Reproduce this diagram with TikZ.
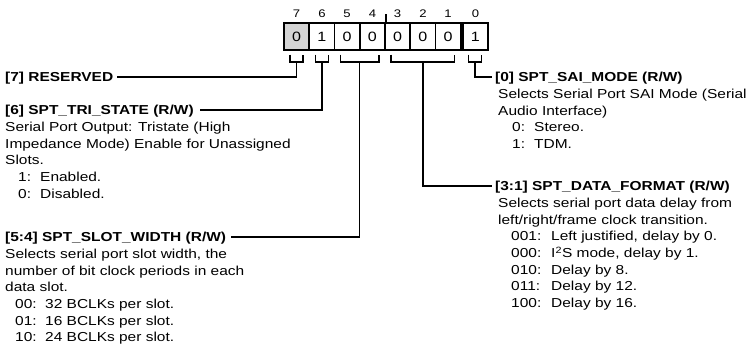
\documentclass[tikz,border=0pt]{standalone}
\usepackage{fontspec}
\setmainfont{Liberation Sans}[FakeStretch=1.19]
\definecolor{cellgray}{RGB}{212,212,212}
\newcommand\myitem[4]{\hbox{\hspace*{#1pt}\makebox[#2pt][l]{#3}#4}}
\begin{document}
\begin{tikzpicture}[x=1pt,y=-1pt,
  bitbox/.style={draw, line width=1.6pt, minimum width=25.25pt, minimum height=27pt, inner sep=0pt,
    font=\fontsize{13.5}{15}\selectfont},
  bitnum/.style={inner sep=0pt, font=\fontsize{11}{12}\selectfont},
  conn/.style={line width=1.4pt},
  title/.style={inner sep=0pt, anchor=west, text height=9.4pt, text depth=0pt,
    font=\bfseries\fontsize{13}{16.7}\selectfont},
  body/.style={inner sep=0pt, anchor=base west, font=\fontsize{13}{16.7}\selectfont}]
\useasboundingbox (0,0) rectangle (749,362);

% register cells
\node[bitbox, fill=cellgray] (c7) at (296.6,36.5) {0};
\node[bitbox] (c6) at (321.9,36.5) {1};
\node[bitbox] (c5) at (347.1,36.5) {0};
\node[bitbox] (c4) at (372.4,36.5) {0};
\node[bitbox] (c3) at (397.6,36.5) {0};
\node[bitbox] (c2) at (422.9,36.5) {0};
\node[bitbox] (c1) at (448.1,36.5) {0};
\node[bitbox] (c0) at (475.4,36.5) {1};

% bit numbers
\node[bitnum] (n7) at (296.6,14) {7};
\node[bitnum] (n6) at (321.9,14) {6};
\node[bitnum] (n5) at (347.1,14) {5};
\node[bitnum] (n4) at (372.4,14) {4};
\node[bitnum] (n3) at (397.6,14) {3};
\node[bitnum] (n2) at (422.9,14) {2};
\node[bitnum] (n1) at (448.1,14) {1};
\node[bitnum] (n0) at (475.4,14) {0};

% nibble tick
\draw[conn] (c4.north east) -- ++(0,-8);

% brackets
\draw[conn] (290.1,54.5) -- (290.1,62) -- (303.1,62) -- (303.1,54.5);
\draw[conn] (315.4,54.5) -- (315.4,62) -- (328.4,62) -- (328.4,54.5);
\draw[conn] (340.6,54.5) -- (340.6,62) -- (378.9,62) -- (378.9,54.5);
\draw[conn] (391.1,54.5) -- (391.1,62) -- (454.6,62) -- (454.6,54.5);
\draw[conn] (468.4,54.5) -- (468.4,62) -- (481.4,62) -- (481.4,54.5);
\coordinate (s7) at (296.6,62);
\coordinate (s6) at (321.9,62);
\coordinate (s54) at (359.75,62);
\coordinate (s31) at (422.9,62);
\coordinate (s0) at (474.9,62);

% titles
\node[title] (t7) at (5,77) {[7] RESERVED};
\node[title] (t6) at (5,110) {[6] SPT\_TRI\_STATE (R/W)};
\node[title] (t54) at (5,237) {[5:4] SPT\_SLOT\_WIDTH (R/W)};
\node[title] (t0) at (495,77) {[0] SPT\_SAI\_MODE (R/W)};
\node[title] (t31) at (495,186) {[3:1] SPT\_DATA\_FORMAT (R/W)};

% connectors
\draw[conn] (s7) |- ([xshift=4pt]t7.east);
\draw[conn] (s6) |- ([xshift=6pt]t6.east);
\draw[conn] (s54) |- ([xshift=5pt]t54.east);
\draw[conn] (s0) |- ([xshift=-3pt]t0.west);
\draw[conn] (s31) |- ([xshift=-3pt]t31.west);

% descriptions
\node[body] (d6) at ([yshift=-16.7pt]t6.base west) {\vtop{\baselineskip=16.7pt
  \hbox{Serial Port Output: Tristate (High}
  \hbox{Impedance Mode) Enable for Unassigned}
  \hbox{Slots.}
  \myitem{13}{22}{1:}{Enabled.}
  \myitem{13}{22}{0:}{Disabled.}}};
\node[body] (d54) at ([yshift=-16.7pt]t54.base west) {\vtop{\baselineskip=16.7pt
  \hbox{Selects serial port slot width, the}
  \hbox{number of bit clock periods in each}
  \hbox{data slot.}
  \myitem{10}{30}{00:}{32 BCLKs per slot.}
  \myitem{10}{30}{01:}{16 BCLKs per slot.}
  \myitem{10}{30}{10:}{24 BCLKs per slot.}}};
\node[body] (d0) at ([xshift=3pt,yshift=-16.7pt]t0.base west) {\vtop{\baselineskip=16.7pt
  \hbox{Selects Serial Port SAI Mode (Serial}
  \hbox{Audio Interface)}
  \myitem{14}{22}{0:}{Stereo.}
  \myitem{14}{22}{1:}{TDM.}}};
\node[body] (d31) at ([xshift=3pt,yshift=-16.7pt]t31.base west) {\vtop{\baselineskip=16.7pt
  \hbox{Selects serial port data delay from}
  \hbox{left/right/frame clock transition.}
  \myitem{13}{40}{001:}{Left justified, delay by 0.}
  \myitem{13}{40}{000:}{I\textsuperscript{2}S mode, delay by 1.}
  \myitem{13}{40}{010:}{Delay by 8.}
  \myitem{13}{40}{011:}{Delay by 12.}
  \myitem{13}{40}{100:}{Delay by 16.}}};
\end{tikzpicture}
\end{document}
